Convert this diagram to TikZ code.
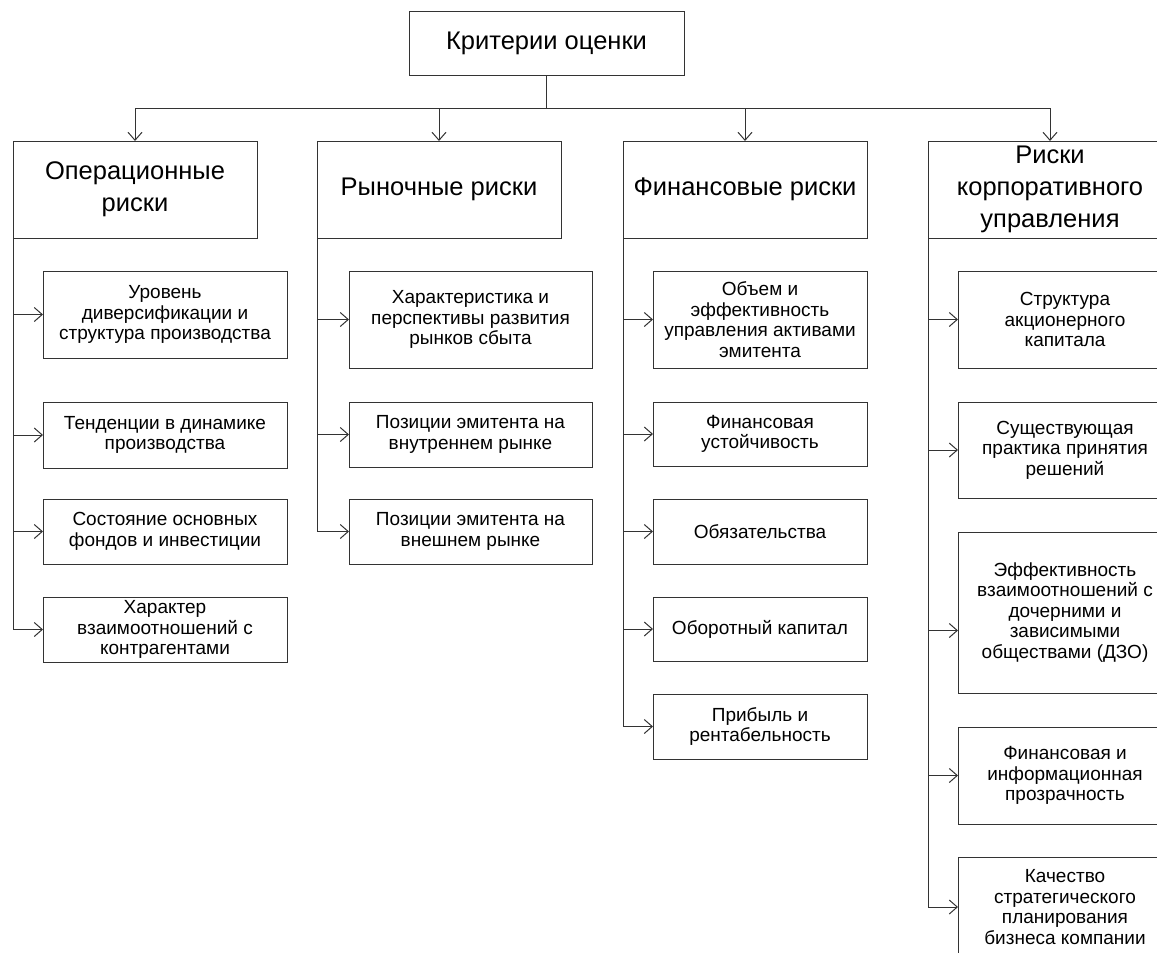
\documentclass[tikz,border=0pt]{standalone}
\usepackage{fontspec}
\setmainfont{Liberation Sans}
\usetikzlibrary{arrows.meta}
\newcommand\mkbox[7]{\node[box,#7,minimum width=\fpeval{#3-#1}pt,minimum height=\fpeval{#4-#2}pt] (#5) at ({(#1+#3)/2},{(#2+#4)/2}) {#6};}
\begin{document}
\begin{tikzpicture}[x=1pt,y=-1pt,
  box/.style={draw=black!80,line width=1pt,rectangle,inner sep=0pt,outer sep=0pt,align=center},
  big/.style={font=\fontsize{25.5}{32}\selectfont},
  small/.style={font=\fontsize{19}{20.5}\selectfont},
  arr/.style={draw=black!80,line width=1pt,-{Straight Barb[length=8pt,width=14pt]}},
  ln/.style={draw=black!80,line width=1pt}]
\useasboundingbox (0,0) rectangle (1157,953);
\clip (0,0) rectangle (1157,953);
% title
\mkbox{409}{11}{684}{75}{title}{Критерии оценки}{big}
% headers
\mkbox{13}{141}{257}{238}{h1}{Операционные\\риски}{big}
\mkbox{317}{141}{561}{238}{h2}{Рыночные риски}{big}
\mkbox{623}{141}{867}{238}{h3}{Финансовые риски}{big}
\mkbox{928}{141}{1172}{238}{h4}{Риски\\корпоративного\\управления}{big}
% column 1
\mkbox{43}{271}{287}{358}{s11}{Уровень\\диверсификации и\\структура производства}{small}
\mkbox{43}{402}{287}{468}{s12}{Тенденции в динамике\\производства}{small}
\mkbox{43}{499}{287}{564}{s13}{Состояние основных\\фондов и инвестиции}{small}
\mkbox{43}{597}{287}{662}{s14}{Характер\\взаимоотношений с\\контрагентами}{small}
% column 2
\mkbox{349}{271}{592}{368}{s21}{Характеристика и\\перспективы развития\\рынков сбыта}{small}
\mkbox{349}{402}{592}{467}{s22}{Позиции эмитента на\\внутреннем рынке}{small}
\mkbox{349}{499}{592}{564}{s23}{Позиции эмитента на\\внешнем рынке}{small}
% column 3
\mkbox{653}{271}{867}{368}{s31}{Объем и\\эффективность\\управления активами\\эмитента}{small}
\mkbox{653}{402}{867}{466}{s32}{Финансовая\\устойчивость}{small}
\mkbox{653}{499}{867}{564}{s33}{Обязательства}{small}
\mkbox{653}{597}{867}{661}{s34}{Оборотный капитал}{small}
\mkbox{653}{694}{867}{759}{s35}{Прибыль и\\рентабельность}{small}
% column 4
\mkbox{958}{271}{1172}{368}{s41}{Структура\\акционерного\\капитала}{small}
\mkbox{958}{402}{1172}{498}{s42}{Существующая\\практика принятия\\решений}{small}
\mkbox{958}{532}{1172}{693}{s43}{Эффективность\\взаимоотношений с\\дочерними и\\зависимыми\\обществами (ДЗО)}{small}
\mkbox{958}{727}{1172}{824}{s44}{Финансовая и\\информационная\\прозрачность}{small}
\mkbox{958}{857}{1172}{957}{s45}{Качество\\стратегического\\планирования\\бизнеса компании}{small}
% connectors
\coordinate (bus) at (title.south |- 0,108);
\draw[ln] (title.south) -- (bus);
\foreach \h in {h1,h2,h3,h4} \draw[arr] (bus) -| (\h.north);
\foreach \s in {s11,s12,s13,s14} \draw[arr] (h1.south west) |- (\s.west);
\foreach \s in {s21,s22,s23} \draw[arr] (h2.south west) |- (\s.west);
\foreach \s in {s31,s32,s33,s34,s35} \draw[arr] (h3.south west) |- (\s.west);
\foreach \s in {s41,s42,s44,s45} \draw[arr] (h4.south west) |- (\s.west);
\draw[arr] (h4.south west) |- ([yshift=-18pt]s43.west);
\end{tikzpicture}
\end{document}
